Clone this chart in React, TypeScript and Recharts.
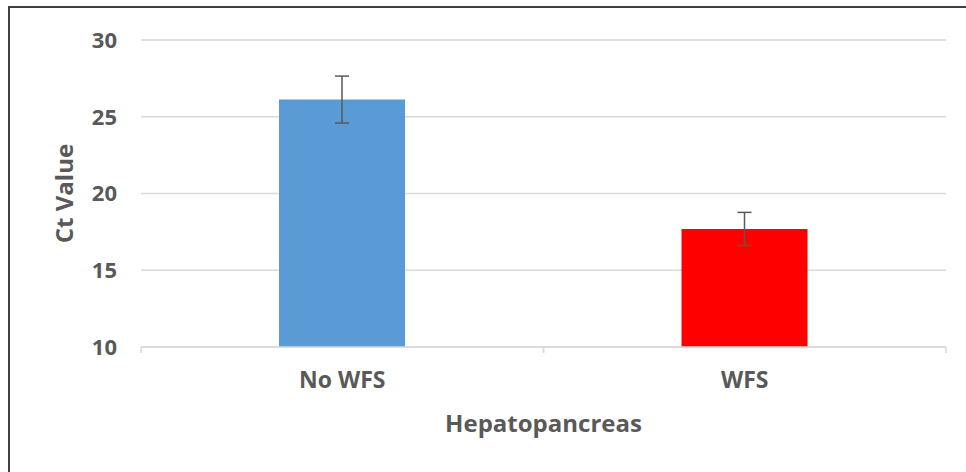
import React from 'react';
import { BarChart, Bar, XAxis, YAxis, CartesianGrid, ErrorBar, Cell } from 'recharts';

const categories = ['No WFS', 'WFS'];
const ctValues = [26.12, 17.69];
const ctErrors = [1.53, 1.08];
const barColors = ['#5B9BD5', '#FF0000'];
const yTicks = [10, 15, 20, 25, 30];

const data = categories.map((name, i) => ({ name, ct: ctValues[i], err: ctErrors[i] }));

const textColor = '#595959';
const font = '"Open Sans", sans-serif';

const CategoryTick = (props: any) => {
  const { x, y, payload } = props;
  const half = payload && payload.offset ? payload.offset : 201;
  return (
    <g>
      <line x1={x - half} y1={y} x2={x - half} y2={y + 6} stroke="#d9d9d9" strokeWidth={1.5} />
      <line x1={x + half} y1={y} x2={x + half} y2={y + 6} stroke="#d9d9d9" strokeWidth={1.5} />
      <text x={x} y={y + 41} textAnchor="middle" fill={textColor} fontFamily={font} fontWeight={700} fontSize={23}>
        {payload.value}
      </text>
    </g>
  );
};

// rotated y-axis title, centred on the plot height
const YTitle = (props: any) => {
  const vb = props.viewBox || { x: 0, y: 40, width: 141, height: 307 };
  const cx = vb.x + 73;
  const cy = vb.y + vb.height / 2;
  return (
    <text
      x={cx}
      y={cy}
      transform={`rotate(-90, ${cx}, ${cy})`}
      textAnchor="middle"
      fill={textColor}
      fontFamily={font}
      fontWeight={700}
      fontSize={24}
    >
      Ct Value
    </text>
  );
};

export default function App() {
  return (
    <div style={{ position: 'absolute', left: 0, top: 0, width: 966, height: 472, overflow: 'hidden', background: '#fff' }}>
      <div style={{ position: 'absolute', left: 8, top: 6, width: 2000, height: 2000, border: '2px solid #404040' }} />
      <div style={{ position: 'absolute', left: 0, top: 0 }}>
        <BarChart width={966} height={472} data={data} margin={{ top: 40, right: 20, bottom: 0, left: 0 }} barSize={126}>
          <CartesianGrid vertical={false} stroke="#d9d9d9" strokeWidth={1.5} />
          <XAxis
            dataKey="name"
            height={125}
            axisLine={{ stroke: '#d9d9d9', strokeWidth: 1.5 }}
            tickLine={false}
            tickSize={0}
            tickMargin={0}
            tick={<CategoryTick />}
            label={{ value: 'Hepatopancreas', position: 'insideBottom', offset: 40, fill: textColor, fontFamily: font, fontWeight: 700, fontSize: 24 }}
          />
          <YAxis
            width={141}
            domain={[10, 30]}
            ticks={yTicks}
            axisLine={false}
            tickLine={false}
            tickSize={0}
            tickMargin={24}
            tick={{ fill: textColor, fontFamily: font, fontWeight: 700, fontSize: 22 }}
            label={{ content: <YTitle /> }}
          />
          <Bar dataKey="ct" isAnimationActive={false}>
            {data.map((d, i) => (
              <Cell key={d.name} fill={barColors[i]} />
            ))}
            <ErrorBar dataKey="err" width={7} stroke="#595959" strokeWidth={1.5} />
          </Bar>
        </BarChart>
      </div>
    </div>
  );
}
